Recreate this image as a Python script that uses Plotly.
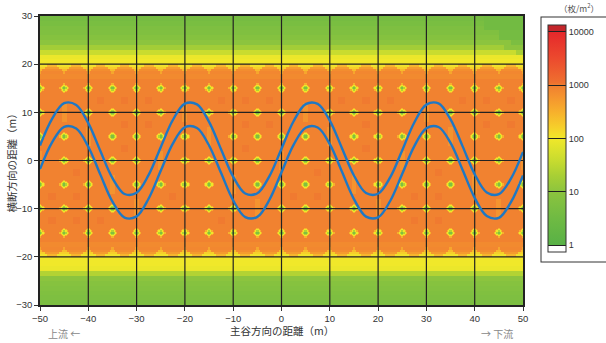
import numpy as np
import plotly.graph_objects as go

# ---------------- data ----------------
x_ticks = [-50, -40, -30, -20, -10, 0, 10, 20, 30, 40, 50]
y_ticks = [-30, -20, -10, 0, 10, 20, 30]
grid_x = [-40, -30, -20, -10, 0, 10, 20, 30, 40]
grid_y = [-20, -10, 0, 10, 20]

# two wavy lines (x in m, y in m)
curve_x = [-50, -47.5, -45, -42.5, -40, -37.5, -35, -32.5, -30, -27.5, -25, -22.5, -20, -17.5,
           -15, -12.5, -10, -7.5, -5, -2.5, 0, 2.5, 5, 7.5, 10, 12.5, 15, 17.5, 20, 22.5, 25,
           27.5, 30, 32.5, 35, 37.5, 40, 42.5, 45, 47.5, 50]
upper_y = [3.1, 8.66, 11.89, 11.54, 7.75, 1.97, -3.65, -6.95, -6.7, -2.99, 2.77, 8.41, 11.8,
           11.65, 8.02, 2.29, -3.39, -6.85, -6.8, -3.25, 2.45, 8.15, 11.7, 11.75, 8.29, 2.61,
           -3.12, -6.75, -6.9, -3.51, 2.13, 7.89, 11.6, 11.85, 8.55, 2.93, -2.85, -6.64, -6.99,
           -3.76, 1.8]
lower_y = [-1.8, 3.76, 6.99, 6.64, 2.85, -2.93, -8.55, -11.85, -11.6, -7.89, -2.13, 3.51, 6.9,
           6.75, 3.12, -2.61, -8.29, -11.75, -11.7, -8.15, -2.45, 3.25, 6.8, 6.85, 3.39, -2.29,
           -8.02, -11.65, -11.8, -8.41, -2.77, 2.99, 6.7, 6.95, 3.65, -1.97, -7.75, -11.54,
           -11.89, -8.66, -3.1]

# density (log10 of 枚/m2) read per 1 m band
core_value = 2.97
top_band_y = [29, 28, 27, 26, 25, 24, 23, 22, 21, 20, 17]
top_band_val = [0.62, 0.68, 0.75, 0.8, 0.88, 1.0, 1.25, 1.6, 1.95, 2.0, 2.88]
bot_band_y = [-30, -29, -28, -27, -26, -25, -24, -23, -22, -21, -18]
bot_band_val = [0.7, 0.75, 0.8, 0.85, 0.9, 1.0, 1.4, 1.95, 2.0, 2.0, 2.88]

# darker green corner at the top right (x0, x1, y0, y1, value)
corner_x0 = [42, 45, 47.5, 46, 48.5]
corner_x1 = [50, 50, 50, 50, 50]
corner_y0 = [27, 25, 24, 23, 22]
corner_y1 = [30, 27, 25, 24, 23]
corner_val = [0.56, 0.6, 0.72, 1.0, 1.3]

# scalloped edge between yellow and orange (distance below |y| = 20 m)
scallop_depth = [0.0, 0.5, 1.0, 1.5]
scallop_halfwidth = [1.5, 1.0, 0.6, 0.3]
scallop_tongue_val = [2.05, 2.2, 2.4, 2.6]
scallop_gap_val = [2.45, 2.7, 2.85, 2.92]

# small low-density spots (diamonds)
diamond_x = [-50, -45, -40, -35, -30, -25, -20, -15, -10, -5, 0, 5, 10, 15, 20, 25, 30, 35, 40, 45, 50]
diamond_y = [-15, -10, -5, 0, 5, 10, 15]
missing_x = [-50, -45, -40, -35, -30, -25, -20, -15, -10, -5, 0, 5, 10, 15, 20, 25, 30, 35, 40, 45, 50]
missing_y = [0, 10, 5, -5, -10, 0, 10, 5, -5, -10, 0, 10, 5, -5, -10, 0, 10, 5, -5, -10, 0]
diamond_ring_d = [0.3, 0.55, 0.9, 1.15]
diamond_ring_val = [0.8, 1.4, 2.0, 2.5]
streak_val = 2.78

# slightly denser patches
patch_x = [-37.5, -32.5, -27.5, -32.5, -27.5, -32.5, -42.5, -47.5, -42.5, -47.5, -42.5, -37.5, -22.5,
           -12.5, -7.5, -2.5, -7.5, -2.5, -7.5, 12.5, 7.5, 2.5, 7.5, -12.5,
           17.5, 22.5, 37.5, 42.5, 47.5, 17.5, 42.5, 47.5, 17.5, 32.5, 27.5, 32.5, 27.5, 32.5]
patch_y = [12.5, 12.5, 12.5, 7.5, 7.5, 2.5, -2.5, -7.5, -7.5, -12.5, -12.5, -12.5, -7.5,
           12.5, 12.5, 12.5, 7.5, 7.5, 2.5, 12.5, -2.5, -7.5, -7.5, -12.5,
           12.5, 12.5, 12.5, 12.5, 12.5, 7.5, 7.5, 7.5, 2.5, -2.5, -7.5, -7.5, -12.5, -12.5]
patch_val = 3.015

# colour scale (log10 value -> colour)
cs_vals = [0.0, 0.5, 1.0, 1.3, 1.6, 2.0, 2.2, 2.5, 2.8, 3.0, 3.05, 3.5, 4.0]
cs_cols = ['#58b146', '#6fba43', '#8cc43e', '#a8cf35', '#c9dc2f', '#f0e82a', '#f6d02a',
           '#f7b02c', '#f4922f', '#f07f30', '#ef702f', '#ec4a2e', '#e5282b']
z_lo, z_hi = -0.13, 4.13
cb_tickvals = [0, 1, 2, 3, 4]
cb_ticktext = ['1', '10', '100', '1000', '10000']

# ---------------- build grid ----------------
cell = 0.25
xs = np.arange(-50 + cell / 2, 50, cell)
ys = np.arange(-30 + cell / 2, 30, cell)
Z = np.full((len(ys), len(xs)), core_value)
for y0, v in zip(top_band_y, top_band_val):
    Z[(ys >= y0) & (ys < y0 + 1), :] = v
for y0, v in zip(bot_band_y, bot_band_val):
    Z[(ys >= y0) & (ys < y0 + 1), :] = v

X, Y = np.meshgrid(xs, ys)
for x0, x1, y0, y1, v in zip(corner_x0, corner_x1, corner_y0, corner_y1, corner_val):
    Z[(X >= x0) & (X < x1) & (Y >= y0) & (Y < y1)] = v

dxcol = np.abs(xs - 5 * np.round(xs / 5))
for d, hw, tv, gv in zip(scallop_depth, scallop_halfwidth, scallop_tongue_val, scallop_gap_val):
    row_vals = np.where(dxcol <= hw, tv, gv)
    Z[(ys >= 19.5 - d) & (ys < 20 - d), :] = row_vals
    Z[(ys >= -20 + d) & (ys < -19.5 + d), :] = row_vals

for px, py in zip(patch_x, patch_y):
    Z[(np.abs(X - px) < 0.8) & (np.abs(Y - py) < 0.8)] = patch_val

missing = set(zip(missing_x, missing_y))
for dx_ in diamond_x:
    for dy_ in diamond_y:
        if (dx_, dy_) in missing:
            Z[(np.abs(X - dx_) < 0.4) & (np.abs(Y - dy_) < 2.0)] = streak_val
            continue
        dist = np.abs(X - dx_) + np.abs(Y - dy_)
        for rd, rv in reversed(list(zip(diamond_ring_d, diamond_ring_val))):
            Z[dist <= rd] = rv

def nrm(v):
    return (v - z_lo) / (z_hi - z_lo)

colorscale = [[0.0, '#ffffff'], [nrm(0) - 1e-4, '#ffffff']]
for v, c in zip(cs_vals, cs_cols):
    colorscale.append([nrm(v), c])
colorscale += [[nrm(4) + 1e-4, '#c4252a'], [1.0, '#c4252a']]

FONT = 'Liberation Sans, Arial, Noto Sans CJK JP, sans-serif'
JFONT = 'Noto Sans CJK JP, sans-serif'

fig = go.Figure()
fig.add_trace(go.Heatmap(
    x=xs, y=ys, z=Z, zmin=z_lo, zmax=z_hi, colorscale=colorscale, zsmooth=False,
    hoverinfo='skip',
    colorbar=dict(
        tickvals=cb_tickvals, ticktext=cb_ticktext,
        ticks='inside', ticklen=18, tickwidth=1, tickcolor='#222',
        thickness=18, thicknessmode='pixels', len=243, lenmode='pixels',
        x=1.0393, xanchor='left', y=0.9965, yanchor='top', xpad=6, ypad=8,
        outlinewidth=1, outlinecolor='#333', bordercolor='#333', borderwidth=1,
        tickfont=dict(size=9, color='#333', family=FONT),
    ),
))

gx, gy = [], []
for v in grid_x:
    gx += [v, v, None]
    gy += [y_ticks[0], y_ticks[-1], None]
for v in grid_y:
    gx += [x_ticks[0], x_ticks[-1], None]
    gy += [v, v, None]
fig.add_trace(go.Scatter(x=gx, y=gy, mode='lines', line=dict(color='#222', width=1.2),
                         hoverinfo='skip', showlegend=False))

for cy in (upper_y, lower_y):
    fig.add_trace(go.Scatter(x=curve_x, y=cy, mode='lines',
                             line=dict(color='#1f78c4', width=2.4, shape='spline'),
                             hoverinfo='skip', showlegend=False))

fig.update_layout(
    width=606, height=343,
    margin=dict(l=40, r=83, t=16, b=38, autoexpand=False),
    paper_bgcolor='white', plot_bgcolor='white',
    font=dict(family=FONT, size=9, color='#333'),
    showlegend=False,
    xaxis=dict(range=[-50, 50], tickvals=x_ticks, ticks='outside', ticklen=4, tickwidth=1,
               tickcolor='#333', showline=True, linecolor='#222', linewidth=1.5, mirror=True,
               showgrid=False, zeroline=False, tickfont=dict(size=9.5, color='#333'),
               automargin=False),
    yaxis=dict(range=[-30, 30], tickvals=y_ticks, ticks='outside', ticklen=4, tickwidth=1,
               tickcolor='#333', showline=True, linecolor='#222', linewidth=1.5, mirror=True,
               showgrid=False, zeroline=False, tickfont=dict(size=9.5, color='#333'),
               automargin=False),
    annotations=[
        dict(text='主谷方向の距離（m）', xref='paper', yref='paper', x=0.5, y=-0.087,
             xanchor='center', yanchor='middle', showarrow=False,
             font=dict(family=JFONT, size=10.5, color='#333')),
        dict(text='横断方向の距離（m）', xref='paper', yref='paper', x=-0.058, y=0.5,
             xanchor='center', yanchor='middle', showarrow=False, textangle=-90,
             font=dict(family=JFONT, size=10.5, color='#333')),
        dict(text='上流 ←', xref='paper', yref='paper', x=0.05, y=-0.099, xanchor='center',
             yanchor='middle', showarrow=False, font=dict(family=JFONT, size=10, color='#888')),
        dict(text='→ 下流', xref='paper', yref='paper', x=0.946, y=-0.099, xanchor='center',
             yanchor='middle', showarrow=False, font=dict(family=JFONT, size=10, color='#888')),
        dict(text='（枚/m<sup>2</sup>）', xref='paper', yref='paper', x=1.115, y=1.0,
             xanchor='center', yanchor='bottom', showarrow=False,
             font=dict(family=JFONT, size=8.5, color='#555')),
    ],
)

fig.write_html('out.html', config={'displayModeBar': False},
               post_script="document.body.style.margin='0';")
